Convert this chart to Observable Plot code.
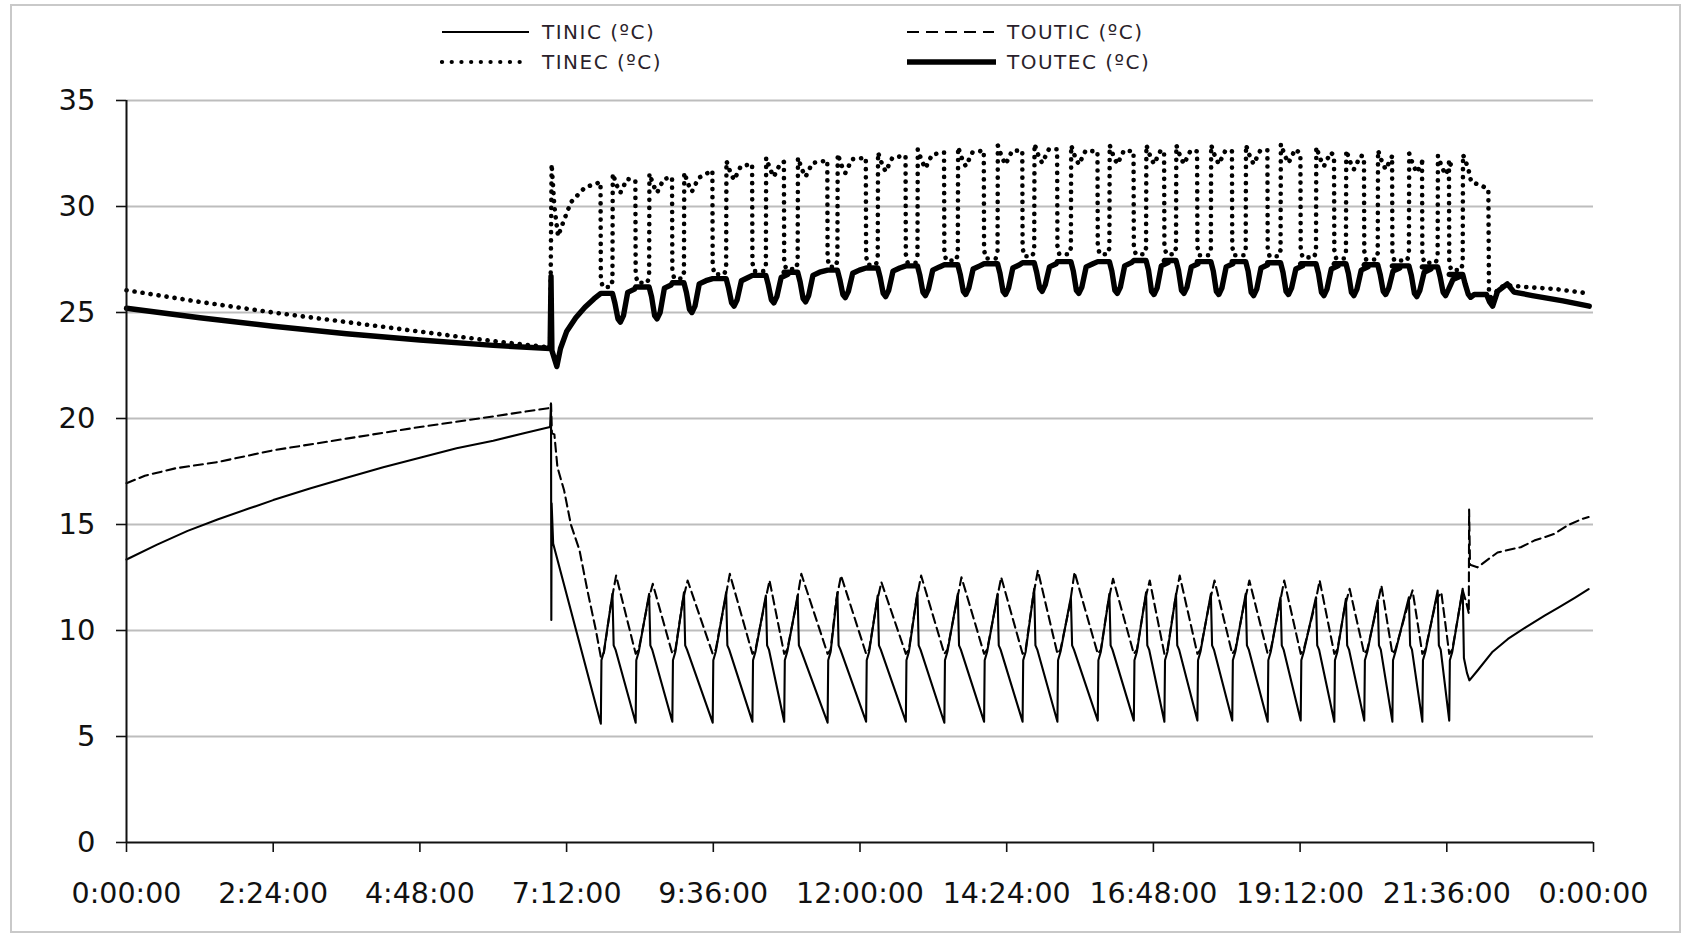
<!DOCTYPE html>
<html><head><meta charset="utf-8">
<script src="https://cdn.jsdelivr.net/npm/d3@7"></script>
<script src="https://cdn.jsdelivr.net/npm/@observablehq/plot@0.6"></script>
<style>
html,body{margin:0;padding:0;background:#fff;}
#wrap{position:relative;width:1683px;height:936px;overflow:hidden;font-family:"DejaVu Sans",Verdana,sans-serif;background:#fff;}
#frame{position:absolute;left:10px;top:4px;width:1671px;height:929px;border:2px solid #c9c9c9;box-sizing:border-box;}
#chart{position:absolute;left:0;top:0;}
.leg{position:absolute;display:flex;align-items:center;height:24px;font-size:20px;letter-spacing:1.5px;color:#2b1f2b;white-space:nowrap;}
.leg span{margin-left:11px;}
</style></head>
<body><div id="wrap"><div id="frame"></div><div id="chart"></div><div id="legend"></div></div>
<script>
// ---------- axis / label data ----------
const seriesNames = ["TINIC (ºC)", "TOUTIC (ºC)", "TINEC (ºC)", "TOUTEC (ºC)"];
const xTickValues = [0, 2.4, 4.8, 7.2, 9.6, 12, 14.4, 16.8, 19.2, 21.6, 24];
const xTickLabels = ["0:00:00","2:24:00","4:48:00","7:12:00","9:36:00","12:00:00","14:24:00","16:48:00","19:12:00","21:36:00","0:00:00"];
const yTicks = [0, 5, 10, 15, 20, 25, 30, 35];

// ---------- cycle timing (hours) ----------
const cycleStart = [7.76, 8.33, 8.93, 9.59, 10.24, 10.76, 11.47, 12.10, 12.75, 13.38, 14.03, 14.66, 15.23, 15.89, 16.48, 16.98, 17.52, 18.09, 18.67, 19.21, 19.76, 20.25, 20.71, 21.20, 21.64];
const cyclePeak  = [7.95, 8.55, 9.12, 9.81, 10.46, 10.98, 11.63, 12.29, 12.94, 13.60, 14.25, 14.85, 15.45, 16.08, 16.68, 17.17, 17.74, 18.31, 18.88, 19.46, 19.95, 20.47, 20.98, 21.45, 21.86];

// ---------- TINIC ----------
const tinicStart = [[0,13.35],[0.5,14.05],[1,14.7],[1.5,15.25],[2,15.75],[2.4,16.15],[3,16.7],[3.6,17.2],[4.2,17.7],[4.8,18.15],[5.4,18.6],[6,18.95],[6.5,19.3],[6.93,19.6],[6.945,20.7],[6.95,10.5],[6.955,16.0],[6.98,14.1]];
const tinicLow  = [5.6,5.65,5.7,5.65,5.7,5.7,5.65,5.7,5.7,5.65,5.7,5.7,5.7,5.75,5.75,5.7,5.75,5.75,5.7,5.75,5.7,5.75,5.7,5.7,5.75];
const tinicPeak = [11.73,11.73,11.8,11.8,11.65,11.65,11.8,11.65,11.8,11.73,11.73,11.97,11.57,11.73,11.8,11.73,11.73,11.73,11.57,11.57,11.5,11.42,11.57,11.88,11.97];
const tinicJump = [8.6, 9.0];     // values right after each trough
const tinicDrop = [9.3, 9.1];     // values right after each peak
const tinicEnd = [[21.88,8.7],[21.93,8.0],[21.97,7.65],[22.1,8.1],[22.35,9.0],[22.6,9.6],[22.89,10.15],[23.2,10.7],[23.44,11.1],[23.7,11.55],[23.92,11.95]];

// ---------- TOUTIC ----------
const touticStart = [[0,16.95],[0.3,17.3],[0.8,17.65],[1.5,17.95],[2.4,18.5],[3.6,19.05],[4.8,19.6],[6,20.1],[6.93,20.5],[6.945,20.7],[6.96,19.3],[7.0,19.25],[7.05,17.7],[7.16,16.6],[7.27,15.0],[7.41,13.8],[7.54,11.9],[7.68,10.0]];
const touticLow  = [8.75,8.9,8.9,8.9,8.9,8.9,8.9,8.9,8.9,8.9,8.9,8.9,8.9,8.9,8.9,8.9,8.9,8.9,8.9,8.9,8.9,8.9,8.9,8.9,8.9];
const touticPeak = [12.59,12.2,12.36,12.67,12.36,12.67,12.59,12.28,12.59,12.51,12.51,12.83,12.75,12.44,12.36,12.59,12.36,12.36,12.36,12.36,11.97,12.12,11.89,11.8,11.9];
const touticEnd = [[21.92,11.3],[21.96,10.8],[21.965,15.7],[21.98,13.1],[22.1,12.98],[22.43,13.68],[22.81,13.93],[23.03,14.24],[23.36,14.56],[23.57,14.95],[23.82,15.27],[23.92,15.35]];

// ---------- TINEC ----------
const tinecStart = [[0,26.05],[1.2,25.5],[2.4,25.0],[3.6,24.55],[4.8,24.1],[6,23.65],[6.93,23.35],[6.955,32.0],[7.0,30.0],[7.06,28.6],[7.15,29.3],[7.27,30.2],[7.5,30.9]];
const tinecPre  = [31.15,31.23,31.38,31.7,32.0,32.1,32.17,32.3,32.4,32.55,32.64,32.64,32.7,32.6,32.6,32.6,32.6,32.6,32.65,32.5,32.4,32.35,32.3,32.2,32.1];
const tinecLow  = [26.2,26.4,26.6,26.8,26.95,27.05,27.15,27.25,27.35,27.45,27.55,27.65,27.75,27.75,27.75,27.75,27.7,27.7,27.65,27.6,27.55,27.5,27.45,27.35,27.0];
const tinecPeak = [31.55,31.55,31.6,32.15,32.3,32.3,32.48,32.55,32.7,32.8,32.88,32.95,32.88,32.9,32.9,32.9,32.9,32.9,32.95,32.8,32.65,32.65,32.5,32.4,32.45];
const tinecEnd = [[21.95,31.8],[22.0,31.15],[22.16,31.0],[22.28,30.8],[22.29,26.0],[22.34,25.5],[22.43,26.1],[22.56,26.3],[22.9,26.2],[23.4,26.1],[23.92,25.9]];

// ---------- TOUTEC ----------
const toutecStart = [[0,25.2],[1.2,24.75],[2.4,24.35],[3.6,24.0],[4.8,23.7],[6,23.45],[6.93,23.3],[6.945,26.7],[6.96,23.2],[7.04,22.45],[7.1,23.3],[7.2,24.1],[7.35,24.75],[7.5,25.25],[7.65,25.65]];
const toutecPlateau = [25.9,26.2,26.4,26.6,26.75,26.9,27.0,27.1,27.2,27.25,27.3,27.35,27.4,27.4,27.45,27.45,27.4,27.4,27.35,27.3,27.3,27.25,27.2,27.15,26.8];
const toutecDip = [24.55,24.7,25.0,25.3,25.45,25.5,25.7,25.75,25.8,25.85,25.85,26.0,25.9,25.9,25.85,25.9,25.85,25.8,25.85,25.8,25.8,25.85,25.75,25.8,25.72];
const toutecEnd = [[22.05,25.85],[22.25,25.85],[22.3,25.5],[22.35,25.3],[22.43,26.0],[22.59,26.35],[22.7,25.96],[23.0,25.8],[23.5,25.55],[23.93,25.3]];

// ---------- assemble series from the readings ----------
const N = cycleStart.length;
function tinicSeries() {
  const p = tinicStart.slice();
  cycleStart.forEach((t0, i) => {
    const tp = cyclePeak[i];
    p.push([t0, tinicLow[i]], [t0 + 0.01, tinicJump[0]], [t0 + 0.05, tinicJump[1]], [tp, tinicPeak[i]]);
    if (i < N - 1) p.push([tp + 0.02, tinicDrop[0]], [tp + 0.05, tinicDrop[1]]);
  });
  return p.concat(tinicEnd);
}
function touticSeries() {
  const p = touticStart.slice();
  cycleStart.forEach((t0, i) => {
    const tp = cyclePeak[i];
    p.push([t0, touticLow[i]], [t0 + 0.05, touticLow[i] + 0.2]);
    if (i < N - 1) p.push([tp - 0.02, tinicPeak[i] - 0.4], [tp + 0.06, touticPeak[i]]);
    else p.push([tp, touticPeak[i]]);
  });
  return p.concat(touticEnd);
}
function tinecSeries() {
  const p = tinecStart.slice();
  cycleStart.forEach((t0, i) => {
    const tp = cyclePeak[i];
    p.push([t0 - 0.005, tinecPre[i]], [t0, tinecLow[i] + 0.4], [t0 + 0.03, tinecLow[i]],
           [tp - 0.03, tinecLow[i]], [tp, tinecLow[i] + 0.3], [tp + 0.005, tinecPeak[i]]);
    if (i < N - 1) p.push([tp + 0.07, tinecPeak[i] - 0.55], [tp + 0.13, tinecPeak[i] - 0.9], [tp + 0.24, tinecPeak[i] - 0.25]);
  });
  return p.concat(tinecEnd);
}
function toutecSeries() {
  const p = toutecStart.slice();
  cycleStart.forEach((t0, i) => {
    const tp = cyclePeak[i], P = toutecPlateau[i], D = toutecDip[i];
    p.push([t0, P], [tp, P], [tp + 0.04, P - 0.45], [tp + 0.09, D + 0.15], [tp + 0.13, D]);
    if (i < N - 1) {
      const Pn = toutecPlateau[i + 1];
      p.push([tp + 0.18, D + 0.3], [tp + 0.25, Pn - 0.25], [tp + 0.36, Pn - 0.1]);
    }
  });
  return p.concat(toutecEnd);
}

const styles = [
  {stroke: "#000", strokeWidth: 2.1},
  {stroke: "#000", strokeWidth: 2.1, strokeDasharray: "9,5"},
  {stroke: "#000", strokeWidth: 4.6, strokeDasharray: "0.1,8", strokeLinecap: "round"},
  {stroke: "#000", strokeWidth: 5.4, strokeLinejoin: "round"}
];
const data = [tinicSeries(), touticSeries(), tinecSeries(), toutecSeries()];

const chart = Plot.plot({
  width: 1683, height: 936,
  marginLeft: 126, marginRight: 90, marginTop: 100, marginBottom: 94,
  style: {fontFamily: "'DejaVu Sans', Verdana, sans-serif", background: "transparent", color: "#111"},
  x: {domain: [0, 24], axis: null},
  y: {domain: [0, 35], axis: null},
  marks: [
    Plot.gridY(yTicks.filter(v => v > 0), {stroke: "#bdbdbd", strokeOpacity: 1, strokeWidth: 2}),
    Plot.axisY(yTicks, {tickSize: 10, tickPadding: 21, fontSize: 29, strokeWidth: 1.6}),
    Plot.axisX(xTickValues, {tickSize: 10, tickPadding: 30, fontSize: 28.5, strokeWidth: 1.6,
      tickFormat: d => xTickLabels[xTickValues.indexOf(d)]}),
    ...data.map((pts, k) => Plot.line(pts, {x: d => d[0], y: d => d[1], ...styles[k]})),
    Plot.ruleX([0], {strokeWidth: 2}),
    Plot.ruleY([0], {strokeWidth: 2})
  ]
});
document.getElementById("chart").appendChild(chart);

// ---------- legend ----------
const legendPos = [{left: 440, top: 20}, {left: 905, top: 20}, {left: 440, top: 50}, {left: 905, top: 50}];
const legendSample = [
  'stroke-width="2"',
  'stroke-width="2" stroke-dasharray="12,7"',
  'stroke-width="4.2" stroke-dasharray="0.1,9.6" stroke-linecap="round"',
  'stroke-width="5.5"'
];
const leg = document.getElementById("legend");
seriesNames.forEach((name, k) => {
  const d = document.createElement("div");
  d.className = "leg";
  d.style.left = legendPos[k].left + "px";
  d.style.top = legendPos[k].top + "px";
  d.innerHTML = `<svg width="91" height="24"><line x1="2" y1="12" x2="${k === 3 ? 93 : 89}" y2="12" stroke="#000" ${legendSample[k]}/></svg><span>${name}</span>`;
  leg.appendChild(d);
});
</script>
</body></html>
